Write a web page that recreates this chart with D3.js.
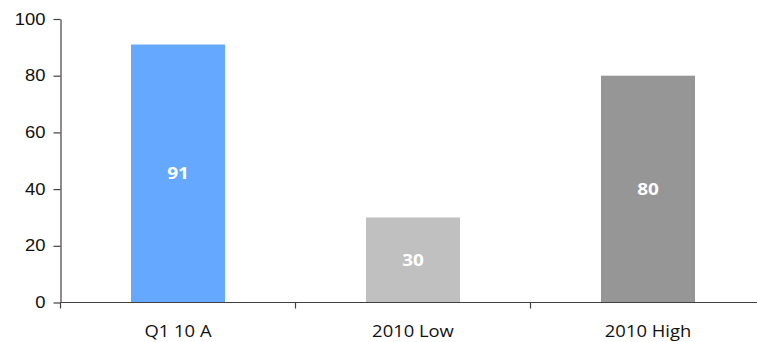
<!DOCTYPE html>
<html>
<head>
<meta charset="utf-8">
<script src="https://cdn.jsdelivr.net/npm/d3@7"></script>
<style>
  html, body { margin: 0; padding: 0; background: #fff; }
  svg { display: block; }
  .axis path, .axis line { stroke: #404040; stroke-width: 1.2; }
</style>
</head>
<body>
<svg id="chart" width="757" height="342"></svg>
<script>
// Chart data
const categories = ["Q1 10 A", "2010 Low", "2010 High"];
const values = [91, 30, 80];
const barColors = ["#64a8ff", "#c0c0c0", "#969696"];
const yTicks = [0, 20, 40, 60, 80, 100];

const svg = d3.select("#chart");
const plotLeft = 60.5, plotRight = 765.5, plotTop = 19, plotBottom = 302.5;
const textStretch = 1.15; // glyphs are drawn slightly wide

const x = d3.scaleBand()
  .domain(categories)
  .range([plotLeft, plotRight])
  .paddingInner(0.6)
  .paddingOuter(0.3);

const y = d3.scaleLinear().domain([0, 100]).range([plotBottom, plotTop]);

// Bars
svg.append("g").selectAll("rect")
  .data(values)
  .join("rect")
  .attr("x", (d, i) => x(categories[i]))
  .attr("width", x.bandwidth())
  .attr("y", d => y(d))
  .attr("height", d => y(0) - y(d))
  .attr("fill", (d, i) => barColors[i]);

// Value labels centred in each bar
svg.append("g").selectAll("text")
  .data(values)
  .join("text")
  .attr("transform", (d, i) =>
    `translate(${x(categories[i]) + x.bandwidth() / 2},${(y(d) + y(0)) / 2}) scale(${textStretch},1)`)
  .attr("dy", "0.36em")
  .attr("text-anchor", "middle")
  .attr("fill", "#fff")
  .attr("font-family", "'Open Sans', sans-serif")
  .attr("font-weight", "bold")
  .attr("font-size", 16.5)
  .text(d => d);

// Y axis
const yAxis = svg.append("g")
  .attr("class", "axis")
  .attr("transform", `translate(${plotLeft},0)`)
  .call(d3.axisLeft(y).tickValues(yTicks).tickSize(7).tickPadding(0).tickSizeOuter(0));
yAxis.selectAll(".tick text")
  .attr("x", null)
  .attr("transform", `translate(-15,0) scale(${textStretch},1)`)
  .attr("font-family", "'Liberation Sans', Arial, sans-serif")
  .attr("font-size", 16)
  .attr("fill", "#111");

// X axis with ticks at category boundaries
const bounds = [plotLeft, ...categories.slice(1).map(c => x(c) - x.step() * x.paddingInner() / 2)];
const xAxisG = svg.append("g")
  .attr("class", "axis")
  .attr("transform", `translate(0,${plotBottom})`);
xAxisG.append("line")
  .attr("x1", plotLeft).attr("x2", plotRight)
  .attr("y1", 0).attr("y2", 0);
xAxisG.selectAll("line.tick")
  .data(bounds)
  .join("line")
  .attr("class", "tick")
  .attr("x1", d => d).attr("x2", d => d)
  .attr("y1", 0).attr("y2", 6);
xAxisG.selectAll("text")
  .data(categories)
  .join("text")
  .attr("transform", d => `translate(${x(d) + x.bandwidth() / 2},34.8) scale(${textStretch},1)`)
  .attr("text-anchor", "middle")
  .attr("font-family", "'Open Sans', sans-serif")
  .attr("font-size", 16)
  .attr("fill", "#111")
  .text(d => d);
</script>
</body>
</html>
